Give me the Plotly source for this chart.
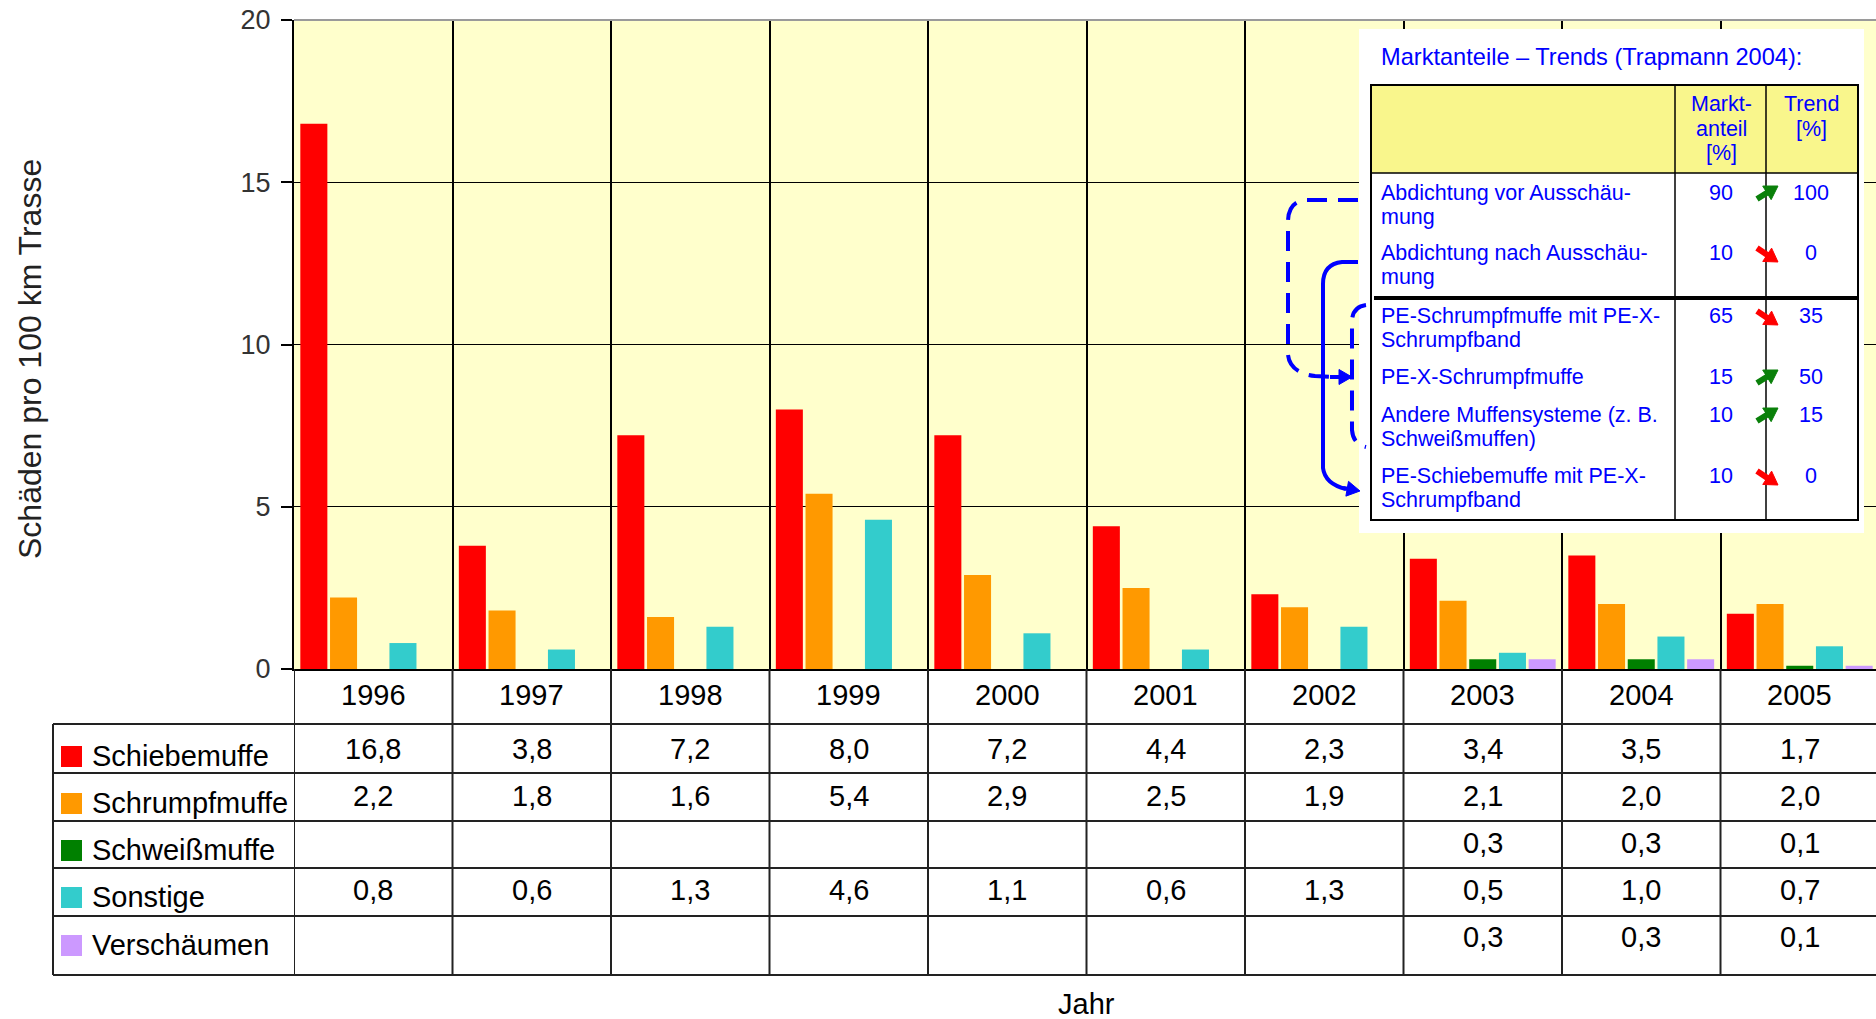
import math
import plotly.graph_objects as go

# --- data -------------------------------------------------------------
years = ["1996", "1997", "1998", "1999", "2000", "2001", "2002", "2003", "2004", "2005"]
series_names = ["Schiebemuffe", "Schrumpfmuffe", "Schweißmuffe", "Sonstige", "Verschäumen"]
schiebemuffe = [16.8, 3.8, 7.2, 8.0, 7.2, 4.4, 2.3, 3.4, 3.5, 1.7]
schrumpfmuffe = [2.2, 1.8, 1.6, 5.4, 2.9, 2.5, 1.9, 2.1, 2.0, 2.0]
schweissmuffe = [None, None, None, None, None, None, None, 0.3, 0.3, 0.1]
sonstige = [0.8, 0.6, 1.3, 4.6, 1.1, 0.6, 1.3, 0.5, 1.0, 0.7]
verschaeumen = [None, None, None, None, None, None, None, 0.3, 0.3, 0.1]
series_colors = ["#ff0000", "#ff9900", "#008000", "#33cccc", "#cc99ff"]

market_items = [
    "Abdichtung vor Ausschäu-\nmung",
    "Abdichtung nach Ausschäu-\nmung",
    "PE-Schrumpfmuffe mit PE-X-\nSchrumpfband",
    "PE-X-Schrumpfmuffe",
    "Andere Muffensysteme (z. B.\nSchweißmuffen)",
    "PE-Schiebemuffe mit PE-X-\nSchrumpfband",
]
market_share = [90, 10, 65, 15, 10, 10]
market_trend = [100, 0, 35, 50, 15, 0]

# --- geometry (pixels) ------------------------------------------------
W, H = 1876, 1019
ML, MT, Y0 = 294, 20, 669
PW, PH = W - ML, Y0 - MT
CAT_W = 158.5
FONT = "Liberation Sans, Arial, sans-serif"
BLUE = "#0000ff"


def fx(px):
    return (px - ML) / PW


def fy(py):
    return (Y0 - py) / PH


def fmt(v):
    return "" if v is None else f"{v:.1f}".replace(".", ",")


def label(px, py, text, size=29, color="black", xanchor="center", **kw):
    return dict(x=fx(px), y=fy(py), xref="paper", yref="paper", text=text, showarrow=False,
                xanchor=xanchor, yanchor="middle", font=dict(size=size, color=color, family=FONT), **kw)


def path(points, close=False):
    # points: list of (cmd, [(x, y), ...]) in pixels, one command per segment
    parts = []
    for cmd, pts in points:
        parts.append(cmd + " " + " ".join(f"{fx(a):.5f},{fy(b):.5f}" for a, b in pts))
    return " ".join(parts) + (" Z" if close else "")


def arrow(x0, y0, x1, y1, color, width=4, hl=12, hw=13):
    dx, dy = x1 - x0, y1 - y0
    n = math.hypot(dx, dy)
    ux, uy = dx / n, dy / n
    bx, by = x1 - ux * hl, y1 - uy * hl
    px_, py_ = -uy * hw / 2, ux * hw / 2
    return [
        dict(type="path", xref="paper", yref="paper", layer="above",
             path=path([("M", [(x0, y0)]), ("L", [(bx + ux * 2, by + uy * 2)])]),
             line=dict(color=color, width=width)),
        dict(type="path", xref="paper", yref="paper", layer="above",
             path=path([("M", [(x1, y1)]), ("L", [(bx + px_, by + py_)]), ("L", [(bx - px_, by - py_)])],
                       close=True),
             fillcolor=color, line=dict(color=color, width=1)),
    ]


all_series = [schiebemuffe, schrumpfmuffe, schweissmuffe, sonstige, verschaeumen]

fig = go.Figure()
for name, vals, col in zip(series_names, all_series, series_colors):
    fig.add_trace(go.Bar(x=list(range(len(years))), y=vals, name=name,
                         marker=dict(color=col, line=dict(width=0))))

shapes = []
ann = []

# data table under the plot
row_lines = [724, 773, 821, 868, 916, 975]
for yl in row_lines:
    shapes.append(dict(type="line", xref="paper", yref="paper", x0=fx(53), x1=1,
                       y0=fy(yl), y1=fy(yl), line=dict(color="#222", width=2)))
shapes.append(dict(type="line", xref="paper", yref="paper", x0=fx(53), x1=fx(53),
                   y0=fy(724), y1=fy(975), line=dict(color="#222", width=2)))
for i in range(len(years) + 1):
    shapes.append(dict(type="line", xref="x", yref="paper", x0=i - 0.5, x1=i - 0.5,
                       y0=fy(669), y1=fy(975), line=dict(color="#222", width=2)))

for i, yr in enumerate(years):
    ann.append(dict(x=i, y=fy(695), xref="x", yref="paper", text=yr, showarrow=False,
                    yanchor="middle", font=dict(size=29, color="black", family=FONT)))

value_y = [749, 796, 843, 890, 937]
legend_y = [756, 803, 850, 897, 945]
for name, vals, col, vy, ly in zip(series_names, all_series, series_colors, value_y, legend_y):
    for i, v in enumerate(vals):
        if v is None:
            continue
        ann.append(dict(x=i, y=fy(vy), xref="x", yref="paper", text=fmt(v), showarrow=False,
                        yanchor="middle", font=dict(size=29, color="black", family=FONT)))
    shapes.append(dict(type="rect", xref="paper", yref="paper", x0=fx(61), x1=fx(82),
                       y0=fy(ly - 10), y1=fy(ly + 11), fillcolor=col, line=dict(width=0)))
    ann.append(label(90, ly, name, xanchor="left"))

# top border of plot
shapes.append(dict(type="line", xref="paper", yref="paper", x0=0, x1=1, y0=1, y1=1,
                   line=dict(color="#9a9a9a", width=2)))

# --- inset: market shares table ---------------------------------------
TL, TR, C1, C2 = 1371, 1858, 1675, 1766
VX, TX = 1721, 1811
shapes.append(dict(type="rect", xref="paper", yref="paper", x0=fx(1359), x1=fx(1864),
                   y0=fy(533), y1=fy(29), fillcolor="white", line=dict(width=0), layer="above"))
shapes.append(dict(type="rect", xref="paper", yref="paper", x0=fx(TL), x1=fx(TR),
                   y0=fy(173), y1=fy(85), fillcolor="#f9f68c", line=dict(width=0), layer="above"))
shapes.append(dict(type="rect", xref="paper", yref="paper", x0=fx(TL), x1=fx(TR),
                   y0=fy(520), y1=fy(85), line=dict(color="black", width=2), layer="above"))
for cx in (C1, C2):
    shapes.append(dict(type="line", xref="paper", yref="paper", x0=fx(cx), x1=fx(cx),
                       y0=fy(85), y1=fy(520), line=dict(color="black", width=1.5), layer="above"))
shapes.append(dict(type="line", xref="paper", yref="paper", x0=fx(TL), x1=fx(TR),
                   y0=fy(173), y1=fy(173), line=dict(color="black", width=1.5), layer="above"))
shapes.append(dict(type="line", xref="paper", yref="paper", x0=fx(TL + 3), x1=fx(TR),
                   y0=fy(298), y1=fy(298), line=dict(color="black", width=4), layer="above"))

ann.append(label(1379, 57, "Marktanteile – Trends (Trapmann 2004):", size=23.6, color=BLUE, xanchor="left"))
for line, yy in zip(["Markt-", "anteil", "[%]"], [104, 129, 153]):
    ann.append(label(VX, yy, line, size=21.5, color=BLUE))
for line, yy in zip(["Trend", "[%]"], [104, 129]):
    ann.append(label(TX, yy, line, size=21.5, color=BLUE))

row_y = [193, 253, 316, 377, 415, 476]
for item, share, trend, ry in zip(market_items, market_share, market_trend, row_y):
    for k, line in enumerate(item.split("\n")):
        ann.append(label(1379, ry + 24 * k, line, size=21.5, color=BLUE, xanchor="left"))
    ann.append(label(VX, ry, str(share), size=21.5, color=BLUE))
    ann.append(label(TX, ry, str(trend), size=21.5, color=BLUE))
    if trend > share:
        shapes += arrow(1757, ry + 6, 1778, ry - 7, "#0a800a", width=6, hl=13, hw=16)
    else:
        shapes += arrow(1757, ry - 5, 1778, ry + 9, "#ff0000", width=6, hl=13, hw=16)

# connector brackets
shapes.append(dict(type="path", xref="paper", yref="paper", layer="above",
                   path=path([("M", [(1358, 200)]), ("L", [(1305, 200)]), ("Q", [(1288, 202), (1288, 222)]),
                              ("L", [(1288, 355)]), ("Q", [(1290, 373), (1315, 376)]), ("L", [(1335, 377)])]),
                   line=dict(color=BLUE, width=4, dash="20px,11px")))
shapes.append(dict(type="path", xref="paper", yref="paper", layer="above",
                   path=path([("M", [(1358, 262)]), ("L", [(1342, 262)]), ("Q", [(1323, 264), (1323, 284)]),
                              ("L", [(1323, 468)]), ("Q", [(1325, 484), (1346, 489)])]),
                   line=dict(color=BLUE, width=4)))
shapes.append(dict(type="path", xref="paper", yref="paper", layer="above",
                   path=path([("M", [(1366, 305)]), ("Q", [(1352, 307), (1352, 322)]),
                              ("L", [(1352, 430)]), ("Q", [(1353, 444), (1366, 447)])]),
                   line=dict(color=BLUE, width=4, dash="20px,11px")))
shapes += arrow(1330, 377, 1352, 377, BLUE, width=4, hl=13, hw=15)
shapes += arrow(1343, 488, 1360, 491, BLUE, width=4, hl=13, hw=15)

# axis titles
ann.append(label(30, 359, "Schäden pro 100 km Trasse", size=32, color="#222", textangle=-90))
ann.append(label(1086, 1004, "Jahr"))

fig.update_layout(
    width=W, height=H,
    margin=dict(l=ML, r=0, t=MT, b=H - Y0, pad=0),
    barmode="group", bargap=0.063, bargroupgap=0.09,
    plot_bgcolor="#ffffcc", paper_bgcolor="white",
    showlegend=False,
    shapes=shapes, annotations=ann,
    xaxis=dict(range=[-0.5, -0.5 + PW / CAT_W], tickmode="array",
               tickvals=[i - 0.5 for i in range(len(years) + 1)], showticklabels=False,
               showgrid=True, gridcolor="black", gridwidth=1.5, zeroline=False,
               showline=True, linecolor="black", linewidth=2, ticks=""),
    yaxis=dict(range=[0, 20], tickvals=[0, 5, 10, 15, 20], ticks="outside", ticklen=11,
               tickcolor="black", tickwidth=1.5, ticklabelstandoff=5,
               tickfont=dict(size=27, color="#333", family=FONT),
               showgrid=True, gridcolor="black", gridwidth=1, zeroline=False,
               showline=True, linecolor="black", linewidth=2),
)

fig.write_html("out.html", config={"displayModeBar": False},
               post_script="document.body.style.margin='0';")
